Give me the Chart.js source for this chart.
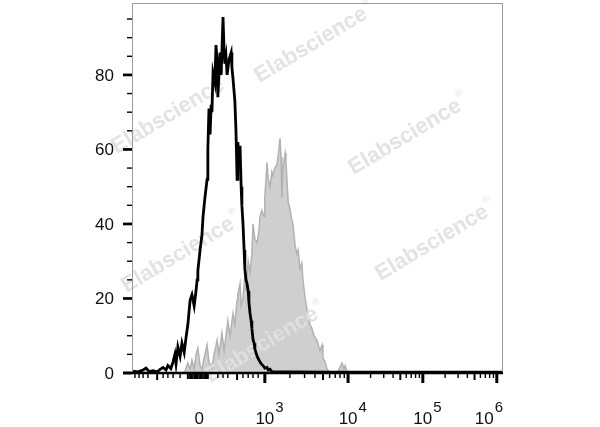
<!DOCTYPE html>
<html>
<head>
<meta charset="utf-8">
<title>Flow cytometry histogram</title>
<script src="https://cdn.jsdelivr.net/npm/chart.js@4.4.0/dist/chart.umd.min.js"></script>
<style>
  html, body { margin: 0; padding: 0; background: #fff; }
  canvas { display: block; }
</style>
</head>
<body>
<canvas id="histo" width="600" height="427"></canvas>
<script>
/* ─── DATA (x in display channels 0..1000, y in counts) ─── */
const blackX = [3, 16, 30, 38, 46, 57, 68, 76, 84, 92, 97, 105, 111, 116, 119, 124, 130, 135, 141, 146,
  151, 157, 162, 168, 173, 176, 178, 184, 189, 192, 197, 203, 205, 208, 211, 214, 216, 219, 224, 227,
  230, 232, 235, 238, 241, 246, 249, 251, 254, 257, 262, 268, 270, 273, 278, 281, 284, 286, 289, 292,
  295, 297, 300, 303, 305, 308, 311, 314, 316, 319, 322, 324, 327, 330, 332, 338, 343, 349, 354, 359,
  365, 368, 373, 378, 427, 535, 670, 805, 941, 1000];
const blackY = [0.5, 0.3, 0.8, 1.3, 0.4, 0.6, 0.3, 1.0, 1.5, 0.8, 2.0, 1.2, 3.0, 5.0, 2.5, 7.0, 4.5, 8.0, 5.5, 9.5,
  13, 19.5, 21, 18, 22, 25, 27.5, 33, 37, 42, 47, 52, 60, 71, 64, 72, 70, 80.5, 78, 88,
  84, 74, 80, 86, 80, 95.5, 86, 83, 85, 80, 84, 86, 82, 79, 73, 65, 52, 62, 58, 61,
  50, 45, 40, 33, 28, 25, 24, 22, 19, 16, 14, 12, 9, 8, 6.5, 4.5, 3.5, 2.5, 2, 1.3,
  1.5, 0.8, 1.0, 0.3, 0.3, 0.2, 0.2, 0.2, 0.2, 0.2];

const grayX = [138, 143, 151, 157, 162, 168, 173, 178, 184, 189, 195, 203, 208, 216, 222, 230, 235, 243, 249, 254,
  259, 265, 273, 278, 284, 286, 292, 295, 300, 305, 308, 314, 319, 324, 327, 332, 338, 343, 346, 351,
  357, 359, 365, 368, 373, 378, 381, 386, 392, 397, 400, 403, 405, 408, 414, 416, 422, 427, 432, 435,
  441, 446, 449, 454, 459, 462, 468, 473, 481, 486, 492, 500, 505, 508, 514, 516, 522, 527, 532, 541,
  549, 557, 562, 568, 573, 576, 581, 589];
const grayY = [0, 0.5, 2.7, 1, 3.5, 1, 5, 6.7, 2, 1, 4, 7.5, 3, 1.5, 5, 8.8, 5, 10.7, 6, 10,
  14, 10, 16, 13, 19.5, 21, 24, 18, 20, 26, 22, 30, 27, 32, 40, 36, 35, 38, 42, 43.6,
  42, 47, 56.5, 52, 50, 54, 53, 55, 56, 60, 63, 58, 47, 55, 59, 57, 46, 44, 41, 40,
  34, 32, 33, 28, 29.5, 25, 20, 17, 13, 12, 10, 8.8, 7, 6, 7.5, 4, 3, 1, 0.5, 0,
  0, 0.5, 1.5, 2.7, 1, 2, 0.5, 0];

/* ─── AXES ─── */
const yLabelTicks = [0, 20, 40, 60, 80];
const yMinorTicks = [5, 10, 15, 25, 30, 35, 45, 50, 55, 65, 70, 75, 85, 90, 95];
const xZeroPos = 176;
const xDecadePos = [359, 584, 786, 986];
const xDecadeExp = ['3', '4', '5', '6'];
const xLinMinor = [8, 19, 30, 43, 84, 97, 111, 130, 232, 246, 259, 300, 314, 327, 341];
const xLinMid = [68, 284];
const xZeroCluster = [151, 157, 162, 168, 173, 178, 184, 189, 195, 200, 205];

const WATERMARK = 'Elabscience';
const wmSpots = [[311, 45], [168, 116], [405, 137], [178, 255], [432, 243], [262, 345]];

const FONT = "'Liberation Sans', Arial, sans-serif";

/* ─── PLUGIN: frame, ticks, labels, watermark ─── */
const facsAxes = {
  id: 'facsAxes',
  afterDatasetDraw(chart, args) {
    if (args.index !== 1) return;           // right after the shaded histogram
    const ctx = chart.ctx;
    ctx.save();
    ctx.fillStyle = 'rgba(224,224,224,0.9)';
    ctx.textAlign = 'center';
    ctx.textBaseline = 'middle';
    wmSpots.forEach(([cx, cy]) => {
      ctx.save();
      ctx.translate(cx, cy);
      ctx.rotate(-31 * Math.PI / 180);
      ctx.font = 'bold 22px ' + FONT;
      ctx.fillText(WATERMARK, 0, 0);
      const w = ctx.measureText(WATERMARK).width;
      ctx.font = '9px ' + FONT;
      ctx.fillText('\u00ae', w / 2 + 5, -9);
      ctx.restore();
    });
    ctx.restore();
  },
  afterDraw(chart) {
    const ctx = chart.ctx;
    const { left, right, top, bottom } = chart.chartArea;
    const xs = chart.scales.x, ys = chart.scales.y;
    ctx.save();

    // frame
    ctx.strokeStyle = '#9a9a9a';
    ctx.lineWidth = 1;
    ctx.beginPath();
    ctx.moveTo(left + 0.5, bottom);
    ctx.lineTo(left + 0.5, top + 0.5);
    ctx.lineTo(right + 0.5, top + 0.5);
    ctx.lineTo(right + 0.5, bottom);
    ctx.stroke();

    ctx.strokeStyle = '#000';
    ctx.lineWidth = 2.6;
    ctx.beginPath();
    ctx.moveTo(left - 9, bottom);
    ctx.lineTo(right + 1, bottom);
    ctx.stroke();

    const tick = (x1, y1, x2, y2, w) => {
      ctx.lineWidth = w;
      ctx.beginPath();
      ctx.moveTo(x1, y1);
      ctx.lineTo(x2, y2);
      ctx.stroke();
    };

    // y ticks + labels
    ctx.fillStyle = '#111';
    ctx.font = '17px ' + FONT;
    ctx.textAlign = 'right';
    ctx.textBaseline = 'middle';
    yLabelTicks.forEach(v => {
      const y = ys.getPixelForValue(v);
      tick(left - 9, y, left, y, 2.7);
      ctx.fillText(String(v), left - 18, y + 1);
    });
    yMinorTicks.forEach(v => { const y = ys.getPixelForValue(v); tick(left - 5, y, left, y, 1.4); });

    // x ticks
    const xt = (v, len, w) => { const x = xs.getPixelForValue(v); tick(x, bottom, x, bottom + len, w); };
    xLinMinor.forEach(v => xt(v, 5, 1.4));
    xLinMid.forEach(v => xt(v, 7, 2));
    xZeroCluster.forEach(v => xt(v, 6, 2));
    xDecadePos.forEach((p, i) => {
      xt(p, 10, 3);
      const next = xDecadePos[i + 1];
      if (next === undefined) return;
      for (let k = 2; k <= 9; k++) {
        const v = p + Math.log10(k) * (next - p);
        xt(v, k === 5 ? 7 : 5, k === 5 ? 2 : 1.4);
      }
    });

    // x labels
    ctx.textBaseline = 'alphabetic';
    ctx.textAlign = 'left';
    ctx.font = '17px ' + FONT;
    const zw = ctx.measureText('0').width;
    ctx.fillText('0', xs.getPixelForValue(xZeroPos) + 2 - zw / 2, 424);
    xDecadePos.forEach((p, i) => {
      ctx.font = '17px ' + FONT;
      const bw = ctx.measureText('10').width;
      ctx.font = '15px ' + FONT;
      const ew = ctx.measureText(xDecadeExp[i]).width;
      let x0 = xs.getPixelForValue(p) - bw / 2;
      if (x0 + bw + 1 + ew > right + 1) x0 = right + 1 - ew - 1 - bw;
      ctx.font = '17px ' + FONT;
      ctx.fillText('10', x0, 424);
      ctx.font = '15px ' + FONT;
      ctx.fillText(xDecadeExp[i], x0 + bw + 1, 412);
    });

    ctx.restore();
  }
};

/* ─── CHART ─── */
const pts = (xs, ys) => xs.map((x, i) => ({ x, y: ys[i] }));

new Chart(document.getElementById('histo'), {
  type: 'line',
  data: {
    datasets: [
      {
        label: 'Isotype',
        data: pts(blackX, blackY),
        borderColor: '#000',
        borderWidth: 2.8,
        pointRadius: 0,
        tension: 0,
        fill: false
      },
      {
        label: 'Stained',
        data: pts(grayX, grayY),
        borderColor: '#b2b2b2',
        backgroundColor: '#cfcfcf',
        borderWidth: 1.5,
        pointRadius: 0,
        tension: 0,
        fill: 'origin'
      }
    ]
  },
  options: {
    responsive: false,
    animation: false,
    devicePixelRatio: 1,
    layout: { padding: { top: 3, right: 98, left: 0, bottom: 0 } },
    plugins: { legend: { display: false }, tooltip: { enabled: false } },
    scales: {
      x: {
        type: 'linear',
        min: 0,
        max: 1000,
        grid: { display: false, drawTicks: false },
        border: { display: false },
        ticks: { display: false },
        afterFit: s => { s.height = 54; }
      },
      y: {
        min: 0,
        max: 99.3,
        grid: { display: false, drawTicks: false },
        border: { display: false },
        ticks: { display: false },
        afterBuildTicks: s => { s.ticks = yLabelTicks.map(v => ({ value: v })); },
        afterFit: s => { s.width = 132; }
      }
    }
  },
  plugins: [facsAxes]
});
</script>
</body>
</html>
